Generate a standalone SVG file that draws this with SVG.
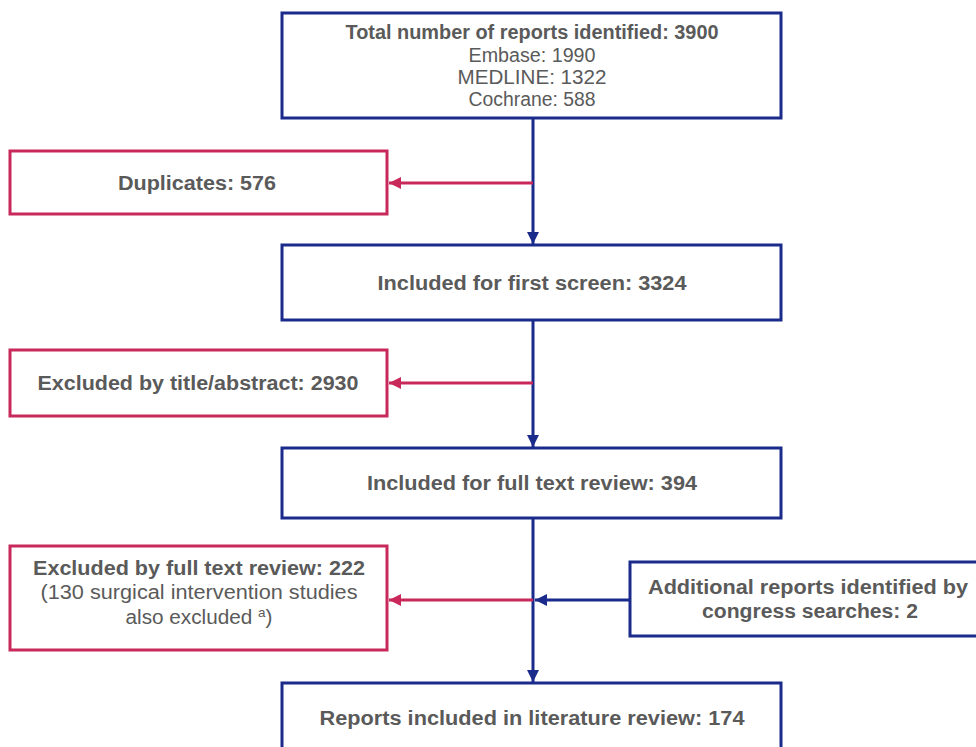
<svg xmlns="http://www.w3.org/2000/svg" width="976" height="747" viewBox="0 0 976 747">
  <style>
    .blue { fill: #ffffff; stroke: #1b2b8c; stroke-width: 3; }
    .pink { fill: #ffffff; stroke: #c8285a; stroke-width: 3; }
    .t { font-family: "Liberation Sans", Arial, sans-serif; font-size: 20px; fill: #5a5a5a; text-anchor: middle; }
    .b { font-weight: bold; }
    .lb { stroke: #1b2b8c; stroke-width: 3; fill: none; }
    .lp { stroke: #c8285a; stroke-width: 3; fill: none; }
  </style>
  <defs>
    <marker id="ab" viewBox="0 0 10 10" refX="10" refY="5" markerWidth="4" markerHeight="4" orient="auto" markerUnits="strokeWidth">
      <path d="M0,0 L10,5 L0,10 z" fill="#1b2b8c"/>
    </marker>
    <marker id="ap" viewBox="0 0 10 10" refX="10" refY="5" markerWidth="4" markerHeight="4" orient="auto" markerUnits="strokeWidth">
      <path d="M0,0 L10,5 L0,10 z" fill="#c8285a"/>
    </marker>
  </defs>
  <rect width="976" height="747" fill="#ffffff"/>

  <g id="connectors">
    <line class="lb" x1="533" y1="118" x2="533" y2="244" marker-end="url(#ab)"/>
    <line class="lp" x1="533" y1="183" x2="389" y2="183" marker-end="url(#ap)"/>
    <line class="lb" x1="533" y1="320" x2="533" y2="447" marker-end="url(#ab)"/>
    <line class="lp" x1="533" y1="383" x2="389" y2="383" marker-end="url(#ap)"/>
    <line class="lb" x1="533" y1="518" x2="533" y2="682" marker-end="url(#ab)"/>
    <line class="lp" x1="533" y1="600" x2="389" y2="600" marker-end="url(#ap)"/>
    <line class="lb" x1="630" y1="600" x2="535" y2="600" marker-end="url(#ab)"/>
  </g>

  <g id="identified">
    <rect class="blue" x="282" y="13" width="499" height="105"/>
    <text class="t b" x="532" y="39" textLength="373" lengthAdjust="spacingAndGlyphs">Total number of reports identified: 3900</text>
    <text class="t" x="532" y="62" textLength="127" lengthAdjust="spacingAndGlyphs">Embase: 1990</text>
    <text class="t" x="532" y="84" textLength="149" lengthAdjust="spacingAndGlyphs">MEDLINE: 1322</text>
    <text class="t" x="532" y="106" textLength="127" lengthAdjust="spacingAndGlyphs">Cochrane: 588</text>
  </g>

  <g id="duplicates">
    <rect class="pink" x="10" y="151" width="377" height="63"/>
    <text class="t b" x="197" y="190" textLength="158" lengthAdjust="spacingAndGlyphs">Duplicates: 576</text>
  </g>

  <g id="first-screen">
    <rect class="blue" x="282" y="245" width="499" height="75"/>
    <text class="t b" x="532" y="290" textLength="309" lengthAdjust="spacingAndGlyphs">Included for first screen: 3324</text>
  </g>

  <g id="excluded-title">
    <rect class="pink" x="10" y="350" width="377" height="66"/>
    <text class="t b" x="198" y="390" textLength="321" lengthAdjust="spacingAndGlyphs">Excluded by title/abstract: 2930</text>
  </g>

  <g id="full-text">
    <rect class="blue" x="282" y="448" width="499" height="70"/>
    <text class="t b" x="532" y="490" textLength="330" lengthAdjust="spacingAndGlyphs">Included for full text review: 394</text>
  </g>

  <g id="excluded-full">
    <rect class="pink" x="10" y="546" width="377" height="104"/>
    <text class="t b" x="199" y="575" textLength="332" lengthAdjust="spacingAndGlyphs">Excluded by full text review: 222</text>
    <text class="t" x="199" y="599" textLength="317" lengthAdjust="spacingAndGlyphs">(130 surgical intervention studies</text>
    <text class="t" x="199" y="624" textLength="147" lengthAdjust="spacingAndGlyphs">also excluded <tspan font-size="13" dy="-7">a</tspan><tspan dy="7">)</tspan></text>
  </g>

  <g id="additional">
    <rect class="blue" x="630" y="562" width="348" height="74"/>
    <text class="t b" x="808" y="594" textLength="320" lengthAdjust="spacingAndGlyphs">Additional reports identified by</text>
    <text class="t b" x="810" y="618" textLength="216" lengthAdjust="spacingAndGlyphs">congress searches: 2</text>
  </g>

  <g id="included">
    <rect class="blue" x="282" y="683" width="499" height="68"/>
    <text class="t b" x="532" y="725" textLength="425" lengthAdjust="spacingAndGlyphs">Reports included in literature review: 174</text>
  </g>
</svg>
